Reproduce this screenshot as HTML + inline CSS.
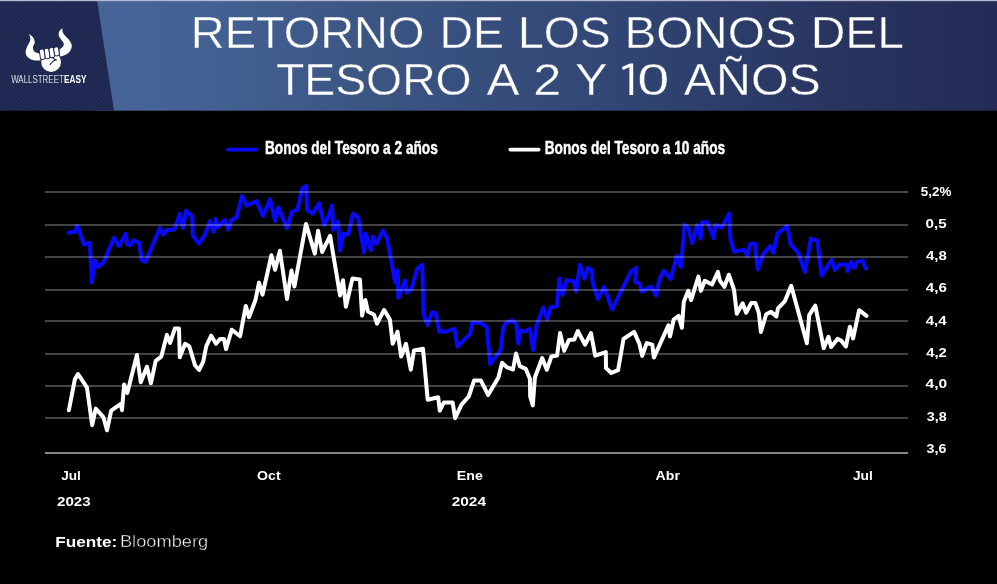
<!DOCTYPE html>
<html><head><meta charset="utf-8"><title>Retorno de los bonos del Tesoro</title>
<style>
html,body{margin:0;padding:0;background:#000;}
body{width:997px;height:584px;overflow:hidden;font-family:"Liberation Sans",sans-serif;}
svg{display:block;will-change:transform}
text{font-family:"Liberation Sans",sans-serif;fill:#fff}
</style></head>
<body>
<svg width="997" height="584" viewBox="0 0 997 584">
<defs>
<linearGradient id="hg" x1="0" y1="0" x2="1" y2="0">
<stop offset="0" stop-color="rgb(70,100,152)"/>
<stop offset="0.12" stop-color="rgb(68,97,148)"/>
<stop offset="0.29" stop-color="rgb(60,86,132)"/>
<stop offset="0.57" stop-color="rgb(49,70,117)"/>
<stop offset="0.83" stop-color="rgb(40,52,94)"/>
<stop offset="1" stop-color="rgb(35,43,86)"/>
</linearGradient>
<pattern id="dots" width="5" height="5" patternUnits="userSpaceOnUse"><circle cx="1.2" cy="1.2" r="0.7" fill="#2b3a6c" fill-opacity="0.55"/><circle cx="3.7" cy="3.7" r="0.7" fill="#2b3a6c" fill-opacity="0.55"/></pattern>
</defs>
<rect x="0" y="0" width="997" height="584" fill="#000"/>
<!-- header -->
<rect x="95" y="0" width="902" height="110.7" fill="url(#hg)"/>
<polygon points="0,0 97,0 114,110.7 0,110.7" fill="#1e2850"/>
<polygon points="0,0 97,0 114,110.7 0,110.7" fill="url(#dots)"/>
<rect x="0" y="0" width="997" height="1.2" fill="#b3b7cf"/>
<!-- logo -->
<g id="logo" fill="#fff">
<path d="M28.8,34 C32,35.5 34.6,38.5 34.8,41.9 C34.8,44 32.9,45.5 32.9,47.5 C32.9,50.6 34.6,53 40.2,53.6 L40.5,60.4 C36,61 32,60.3 29.5,58.5 C26.5,56.5 25.3,54 25.7,51 C26.2,47.5 28.5,44.5 29.8,41.5 C30.8,39 30.5,36.5 28.8,34 Z"/>
<path d="M62.5,28.3 C59.8,29.8 58.4,32 58.6,34.5 C58.9,37.5 61.5,39.8 63.2,42.2 C64.5,44.5 63.8,47 59.5,49.3 L60,56.4 C63.5,56.2 67,54.5 69.3,52 C71.5,49.5 72.3,46.8 71.5,44 C70.5,40.5 66.5,37.5 64,34.5 C62.6,32.7 62,30.5 62.5,28.3 Z"/>
<circle cx="51.15" cy="62.1" r="9.9"/>
</g>
<g id="fingers" fill="#fff" stroke="#1b2349" stroke-width="0.95" transform="rotate(-8.5 49.5 53.5)">
<rect x="39.8" y="48.0" width="4.85" height="10.4" rx="1.9"/>
<rect x="44.65" y="48.0" width="4.85" height="10.4" rx="1.9"/>
<rect x="49.5" y="48.0" width="4.85" height="10.1" rx="1.9"/>
<rect x="54.35" y="48.0" width="4.85" height="8.9" rx="1.9"/>
</g>
<path d="M52.4,57.3 L54.2,59 L56.6,59.9 M55.6,59.8 C53.4,60.8 51.4,62.3 50.2,64.5" fill="none" stroke="#1b2349" stroke-width="1.05" stroke-linecap="round" stroke-linejoin="round"/>
<!-- grid -->
<g fill="#434343" shape-rendering="crispEdges">
<rect x="45" y="191" width="863" height="2"/><rect x="45" y="224" width="863" height="2"/><rect x="45" y="256" width="863" height="2"/><rect x="45" y="289" width="863" height="2"/><rect x="45" y="320" width="863" height="2"/><rect x="45" y="353" width="863" height="2"/><rect x="45" y="385" width="863" height="2"/><rect x="45" y="417" width="863" height="2"/>
</g>
<rect x="45" y="452" width="863" height="2" fill="#828387" shape-rendering="crispEdges"/>
<!-- series -->
<polyline style="mix-blend-mode:screen" fill="none" stroke="#0808fb" stroke-width="4" stroke-linejoin="round" stroke-linecap="round" points="68.6,232.7 75.4,231.5 76.9,225.8 78.5,228.3 83.8,244.5 89.8,242.8 90.6,257.2 91.9,282.3 95.1,260.7 98.5,267.1 103.5,262.4 114.0,237.8 119.0,245.9 125.8,233.8 127.3,244.4 130.5,245.1 134.0,240.3 139.2,242.7 141.7,260.4 145.6,261.8 159.8,228.0 163.3,234.7 167.0,229.9 174.3,229.6 179.9,213.8 183.1,228.0 186.0,210.6 192.3,216.7 192.8,235.5 198.8,243.6 204.9,235.0 210.0,221.2 213.7,231.8 215.8,218.7 217.7,227.3 224.9,220.1 228.2,229.7 231.4,220.1 236.7,217.2 241.9,195.9 246.4,205.6 256.7,201.1 263.1,216.0 270.0,199.1 275.2,220.9 278.4,207.2 286.9,228.1 291.8,212.3 297.4,209.6 302.2,188.7 306.2,185.9 307.0,209.6 312.7,213.6 319.1,203.2 324.3,224.9 328.8,216.0 332.0,205.6 333.3,229.7 338.1,221.7 340.0,250.7 343.6,233.8 348.1,234.6 353.1,213.6 358.2,217.7 364.0,252.3 365.9,233.8 370.8,250.2 373.2,236.7 376.4,243.8 382.8,230.6 387.2,238.6 395.1,282.4 397.8,270.4 398.3,297.7 405.0,280.6 406.8,293.0 411.7,288.6 417.0,269.3 422.3,264.5 423.6,314.6 427.7,325.0 431.7,312.6 435.7,312.9 439.4,331.5 447.0,331.5 454.5,328.7 457.4,346.8 470.3,333.6 472.1,322.8 480.6,322.8 486.8,327.0 490.1,364.0 500.6,350.4 503.4,326.8 506.0,322.7 512.2,320.6 516.3,323.8 518.3,343.7 520.2,330.8 524.8,331.5 529.9,329.0 533.1,350.0 536.5,325.2 543.3,307.6 547.1,319.4 550.7,307.2 556.9,306.3 559.4,278.5 562.5,294.9 566.6,280.1 573.8,281.4 576.2,291.3 579.9,264.8 584.3,278.8 588.0,268.0 592.3,270.7 592.3,280.9 597.9,299.1 604.1,286.8 612.1,309.4 630.9,271.7 636.3,268.0 635.3,282.0 640.1,284.1 641.7,291.7 651.1,286.5 656.2,295.4 659.4,279.3 663.9,270.7 670.7,279.1 676.8,256.0 680.9,267.0 684.6,225.0 688.5,228.2 692.2,243.1 697.0,225.4 700.6,238.6 702.2,222.2 707.3,222.2 713.8,238.3 715.1,224.9 721.5,227.7 729.2,213.7 730.4,238.6 734.1,251.8 744.0,249.6 747.3,256.0 750.2,243.8 755.0,243.8 757.7,269.2 763.4,253.9 770.6,245.9 773.3,252.8 777.5,233.5 787.2,226.1 790.7,244.3 798.0,252.5 804.9,271.8 810.8,238.6 817.3,240.6 821.7,275.6 831.6,259.8 834.9,269.9 839.5,264.6 846.1,264.6 847.8,271.0 851.1,261.9 854.6,267.9 856.9,261.9 862.9,260.6 865.3,267.9 866.3,268.5"/>
<polyline fill="none" stroke="#ffffff" stroke-width="4" stroke-linejoin="round" stroke-linecap="round" points="68.9,410.2 74.8,379.6 78.0,374.0 87.0,387.7 92.2,425.2 95.7,408.6 103.5,417.4 107.0,430.3 111.2,410.7 120.8,403.8 122.0,410.2 124.1,384.4 127.3,393.0 136.9,355.0 140.8,382.3 146.9,366.7 150.9,383.3 155.7,360.9 161.3,356.6 166.9,334.9 170.1,342.9 174.9,328.5 179.0,328.5 179.8,357.3 185.1,343.8 189.4,346.5 195.0,365.3 199.1,370.0 203.2,361.7 206.3,346.2 211.2,335.7 216.0,343.8 220.0,338.9 224.0,338.9 226.0,349.1 231.8,329.7 240.1,336.2 245.8,305.9 249.0,317.2 255.4,300.3 259.0,282.6 262.5,294.7 271.4,255.2 275.1,269.7 279.9,250.7 287.0,298.9 291.5,270.5 294.4,286.6 306.0,223.9 314.8,253.6 318.1,230.8 322.1,252.0 330.1,235.9 340.1,295.5 343.0,280.2 345.9,306.8 352.4,278.6 359.9,279.4 362.1,315.6 365.3,300.0 368.0,311.6 374.1,314.8 377.0,323.6 384.1,310.0 389.9,319.6 392.7,343.8 397.5,331.7 401.2,356.6 406.0,343.8 410.8,369.7 414.0,350.4 423.0,348.8 427.7,399.7 438.2,397.3 439.8,410.7 443.8,402.6 452.7,402.6 455.1,418.2 461.5,404.6 468.8,396.5 474.1,380.4 480.8,380.4 488.1,394.9 498.4,377.5 502.1,362.8 507.2,367.4 513.0,369.5 516.0,353.5 519.8,366.2 525.7,368.8 529.9,378.8 530.2,396.5 532.8,405.4 534.9,377.5 542.2,358.0 546.8,369.8 551.4,356.5 557.1,355.5 560.1,333.1 564.2,350.8 569.0,339.9 574.3,339.6 577.8,331.0 585.1,344.7 591.0,333.1 595.2,355.7 605.8,352.1 606.0,368.1 611.3,372.9 618.1,370.2 623.5,339.0 634.1,331.8 639.4,343.9 642.2,355.9 646.7,343.1 652.3,344.7 653.9,357.6 668.4,325.4 670.0,336.6 673.7,319.5 678.6,315.8 681.9,327.7 683.8,301.9 688.2,290.7 691.1,300.1 698.4,276.6 700.9,290.9 704.8,280.8 712.0,284.6 717.9,271.9 719.9,280.6 724.4,286.8 728.8,274.7 734.0,289.6 736.8,313.7 742.6,303.3 746.1,312.8 751.2,303.1 755.4,303.1 758.8,312.8 760.9,332.0 766.2,314.3 771.0,311.9 776.4,316.4 778.0,308.3 784.7,301.4 791.2,285.8 806.9,343.2 809.2,315.1 815.3,305.7 823.7,348.1 828.5,336.8 831.1,346.9 837.5,338.9 841.1,340.5 845.9,346.5 849.9,326.7 853.1,338.4 859.1,310.2 866.5,315.9"/>
<!-- legend swatches -->
<path d="M228,149.6H256.2" stroke="#0808fb" stroke-width="3.7" stroke-linecap="round"/>
<path d="M510.3,149.6H538.6" stroke="#fff" stroke-width="3.7" stroke-linecap="round"/>
<path id="one" d="M622.0,67.1 L629.9,63.6 L633.2,63.6 L633.2,95 L629.4,95 L629.4,67.3 L622.8,70.1 Z" fill="#fff"/>
<!-- text -->
<mask id="tm" maskUnits="userSpaceOnUse" x="150" y="0" width="800" height="111"><g fill="#fff" stroke="#000" stroke-width="0.45" style="fill:#fff">
<text transform="translate(190.75,48.30) scale(1.0427,1)" font-size="45.0">RETORNO</text>
<text transform="translate(439.38,48.30) scale(1.0334,1)" font-size="45.0">DE</text>
<text transform="translate(518.09,48.30) scale(1.0294,1)" font-size="45.0">LOS</text>
<text transform="translate(624.38,48.30) scale(1.0602,1)" font-size="45.0">BONOS</text>
<text transform="translate(810.77,48.30) scale(1.0644,1)" font-size="45.0">DEL</text>
<text transform="translate(275.95,95.40) scale(1.0302,1)" font-size="45.0">TESORO</text>
<text transform="translate(486.60,95.40) scale(1.1016,1)" font-size="45.0">A</text>
<text transform="translate(533.24,95.40) scale(1.1222,1)" font-size="45.0">2</text>
<text transform="translate(574.97,95.40) scale(1.0851,1)" font-size="45.0">Y</text>
<text transform="translate(637.37,95.40) scale(1.2822,1)" font-size="45.0">0</text>
<text transform="translate(683.81,95.40) scale(1.0743,1)" font-size="45.0">AÑOS</text>
</g></mask>
<rect x="150" y="0" width="800" height="111" fill="#fff" mask="url(#tm)"/>
<text transform="translate(11.16,82.90) scale(0.7951,1)" font-size="10.0" stroke="#1e2751" stroke-width="0.15">WALLSTREET</text>
<text transform="translate(64.05,82.90) scale(0.8239,1)" font-size="10.0" font-weight="bold">EASY</text>
<text transform="translate(264.99,153.70) scale(0.7813,1)" font-size="17.5" font-weight="bold" stroke="#fff" stroke-width="0.45">Bonos del Tesoro a 2 años</text>
<text transform="translate(544.69,153.70) scale(0.7813,1)" font-size="17.5" font-weight="bold" stroke="#fff" stroke-width="0.45">Bonos del Tesoro a 10 años</text>
<text transform="translate(920.77,195.80) scale(1.0734,1)" font-size="12.5" font-weight="bold">5,2%</text>
<text transform="translate(925.59,227.80) scale(1.2149,1)" font-size="12.5" font-weight="bold">0,5</text>
<text transform="translate(925.98,259.80) scale(1.1951,1)" font-size="12.5" font-weight="bold">4,8</text>
<text transform="translate(925.78,291.70) scale(1.2112,1)" font-size="12.5" font-weight="bold">4,6</text>
<text transform="translate(925.78,324.80) scale(1.2014,1)" font-size="12.5" font-weight="bold">4,4</text>
<text transform="translate(926.28,357.00) scale(1.1847,1)" font-size="12.5" font-weight="bold">4,2</text>
<text transform="translate(925.57,388.40) scale(1.2460,1)" font-size="12.5" font-weight="bold">4,0</text>
<text transform="translate(926.66,420.90) scale(1.1492,1)" font-size="12.5" font-weight="bold">3,8</text>
<text transform="translate(926.57,452.90) scale(1.1412,1)" font-size="12.5" font-weight="bold">3,6</text>
<text transform="translate(61.18,480.20) scale(1.0892,1)" font-size="12.5" font-weight="bold">Jul</text>
<text transform="translate(257.12,480.20) scale(1.1293,1)" font-size="12.5" font-weight="bold">Oct</text>
<text transform="translate(456.86,480.20) scale(1.1356,1)" font-size="12.5" font-weight="bold">Ene</text>
<text transform="translate(655.58,480.20) scale(1.1306,1)" font-size="12.5" font-weight="bold">Abr</text>
<text transform="translate(852.98,480.20) scale(1.1010,1)" font-size="12.5" font-weight="bold">Jul</text>
<text transform="translate(56.98,506.00) scale(1.2110,1)" font-size="12.5" font-weight="bold">2023</text>
<text transform="translate(451.67,506.00) scale(1.2379,1)" font-size="12.5" font-weight="bold">2024</text>
<text transform="translate(55.26,546.90) scale(1.1074,1)" font-size="15.5" font-weight="bold">Fuente:</text>
<text transform="translate(119.91,546.90) scale(1.1643,1)" font-size="15.7" stroke="#000" stroke-width="0.4">Bloomberg</text>
</svg>
</body></html>
